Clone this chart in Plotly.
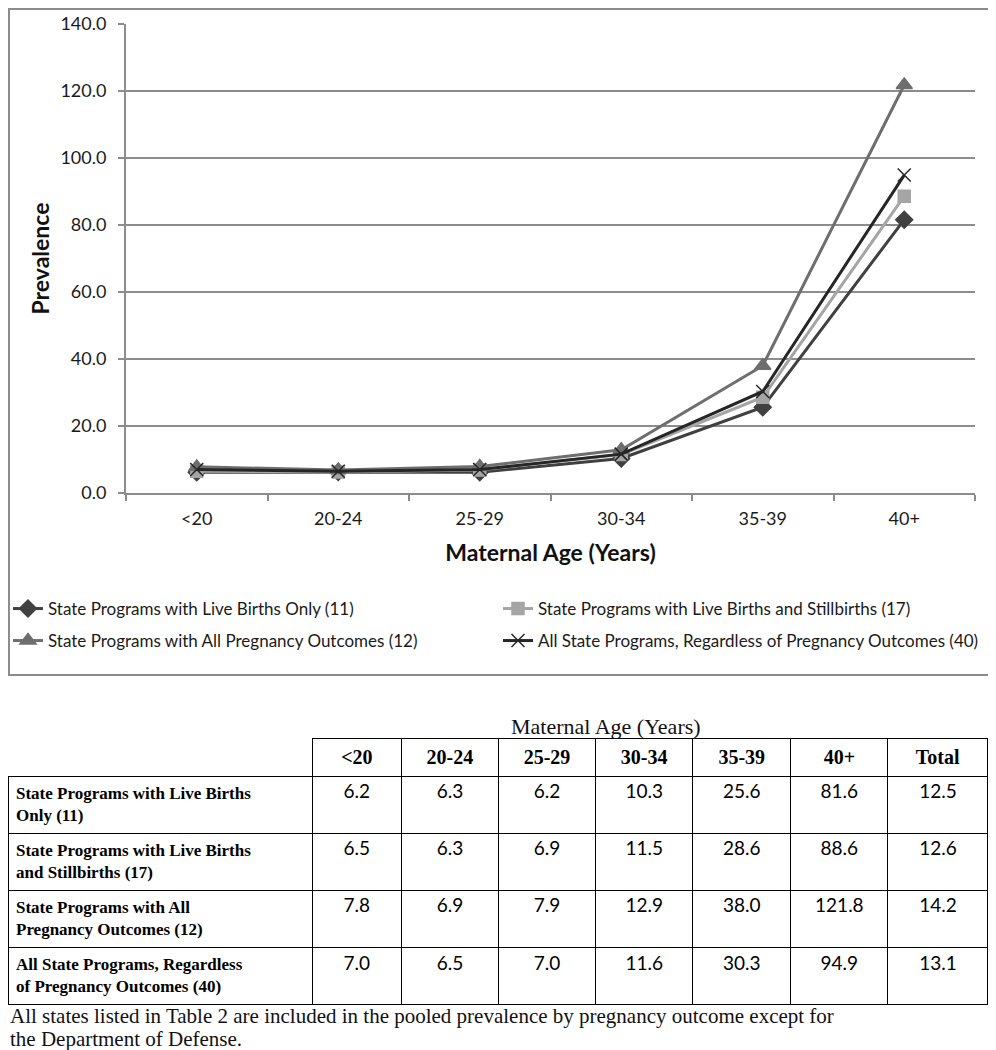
import plotly.graph_objects as go

ages = ["<20", "20-24", "25-29", "30-34", "35-39", "40+"]
series_names = [
    "State Programs with Live Births Only (11)",
    "State Programs with Live Births and Stillbirths (17)",
    "State Programs with All Pregnancy Outcomes (12)",
    "All State Programs, Regardless of Pregnancy Outcomes (40)",
]
live_only = [6.2, 6.3, 6.2, 10.3, 25.6, 81.6]
live_still = [6.5, 6.3, 6.9, 11.5, 28.6, 88.6]
all_outcomes = [7.8, 6.9, 7.9, 12.9, 38.0, 121.8]
all_states = [7.0, 6.5, 7.0, 11.6, 30.3, 94.9]
totals = [12.5, 12.6, 14.2, 13.1]
row_labels = [
    "State Programs with Live Births<br>Only (11)",
    "State Programs with Live Births<br>and Stillbirths (17)",
    "State Programs with All<br>Pregnancy Outcomes (12)",
    "All State Programs, Regardless<br>of Pregnancy Outcomes (40)",
]
table_cols = ["&lt;20", "20-24", "25-29", "30-34", "35-39", "40+", "Total"]
footnote_lines = [
    "All states listed in Table 2 are included in the pooled prevalence by pregnancy outcome except for",
    "the Department of Defense.",
]

# the page body adds an 8px offset; size the figure to the visible area
OFF = 8
W, H = 996 - OFF, 1050 - OFF
def px(x):
    return min(max((x - OFF) / W, 0), 1)
def py(y):
    return min(max(1 - (y - OFF) / H, 0), 1)

series = [live_only, live_still, all_outcomes, all_states]
colors = ["#404040", "#a5a5a5", "#6e6e6e", "#262626"]
symbols = ["diamond", "square", "triangle-up", "x-thin-open"]
msizes = [13, 12, 14, 13]
legends = ["legend", "legend", "legend2", "legend2"]

fig = go.Figure()
for name, vals, c, s, ms, lg in zip(series_names, series, colors, symbols, msizes, legends):
    fig.add_trace(go.Scatter(
        x=ages, y=vals, name=name, mode="lines+markers",
        line=dict(color=c, width=3),
        marker=dict(symbol=s, size=ms, color=c, line=dict(color=c, width=1.5)),
        legend=lg,
    ))

# table
cell_cols = [[f"<b>{r}</b>" for r in row_labels]]
for j in range(len(ages)):
    cell_cols.append([f"{v[j]:.1f}" for v in series])
cell_cols.append([f"{t:.1f}" for t in totals])

fig.add_trace(go.Table(
    domain=dict(x=[0, px(988)], y=[py(1010), py(738)]),
    columnwidth=[304, 89, 97, 97, 97, 98, 97, 100],
    header=dict(
        values=[""] + [f"<b>{c}</b>" for c in table_cols],
        fill_color="white",
        line=dict(color="black", width=[0] + [1] * 7),
        align="center",
        font=dict(family="Liberation Serif", size=20, color="black"),
        height=32,
    ),
    cells=dict(
        values=cell_cols,
        fill_color="white",
        line=dict(color="black", width=1),
        align=["left"] + ["center"] * 7,
        font=dict(family=["Liberation Serif"] + ["Lato"] * 7,
                  size=[17] + [19] * 7, color="black"),
        height=53,
    ),
))

axcol = "#8c8c8c"
txtcol = "#1a1a1a"
fig.update_layout(
    width=W, height=H,
    margin=dict(l=0, r=0, t=0, b=0, autoexpand=False),
    paper_bgcolor="white", plot_bgcolor="white",
    font=dict(family="Lato", color=txtcol),
    xaxis=dict(
        domain=[px(126), px(975)], type="category", range=[-0.5, 5.5],
        showline=True, linecolor=axcol, linewidth=2,
        ticks="outside", tickson="boundaries", ticklen=6, tickcolor=axcol, tickwidth=2,
        ticklabelstandoff=8,
        tickfont=dict(family="Lato", size=18, color=txtcol),
        showgrid=False, zeroline=False, automargin=False,
        title=dict(text="<b>Maternal Age (Years)</b>", font=dict(family="Lato", size=23, color="#111"), standoff=17),
    ),
    yaxis=dict(
        domain=[py(493), py(24)], range=[0, 140], dtick=20, tickformat=".1f",
        showgrid=True, gridcolor=axcol, gridwidth=1.5,
        showline=True, linecolor=axcol, linewidth=2,
        ticks="outside", ticklen=6, tickcolor=axcol, tickwidth=2,
        ticklabelstandoff=8,
        tickfont=dict(family="Lato", size=18, color=txtcol),
        zeroline=False, automargin=False,
        title=dict(text="<b>Prevalence</b>", font=dict(family="Lato", size=23, color="#111"), standoff=4),
    ),
    legend=dict(orientation="h", x=0, xanchor="left", y=py(591), yanchor="top",
                entrywidth=445, entrywidthmode="pixels",
                font=dict(family="Lato", size=17, color=txtcol), bgcolor="rgba(0,0,0,0)"),
    legend2=dict(orientation="h", x=0, xanchor="left", y=py(623), yanchor="top",
                 entrywidth=445, entrywidthmode="pixels",
                 font=dict(family="Lato", size=17, color=txtcol), bgcolor="rgba(0,0,0,0)"),
    shapes=[dict(type="rect", xref="paper", yref="paper",
                 x0=0.001, x1=px(993), y0=py(675), y1=0.999,
                 line=dict(color="#8c8c8c", width=2), layer="below")],
    annotations=[
        dict(text="Maternal Age (Years)", x=px(606), y=py(726), xref="paper", yref="paper",
             showarrow=False, xanchor="center", yanchor="middle",
             font=dict(family="Liberation Serif", size=22, color="#111")),
        dict(text=footnote_lines[0], x=0, y=py(1016), xref="paper", yref="paper",
             showarrow=False, xanchor="left", yanchor="middle",
             font=dict(family="Liberation Serif", size=21, color="#111")),
        dict(text=footnote_lines[1], x=0, y=py(1039), xref="paper", yref="paper",
             showarrow=False, xanchor="left", yanchor="middle",
             font=dict(family="Liberation Serif", size=21, color="#111")),
    ],
)

fig.write_html("out.html")
